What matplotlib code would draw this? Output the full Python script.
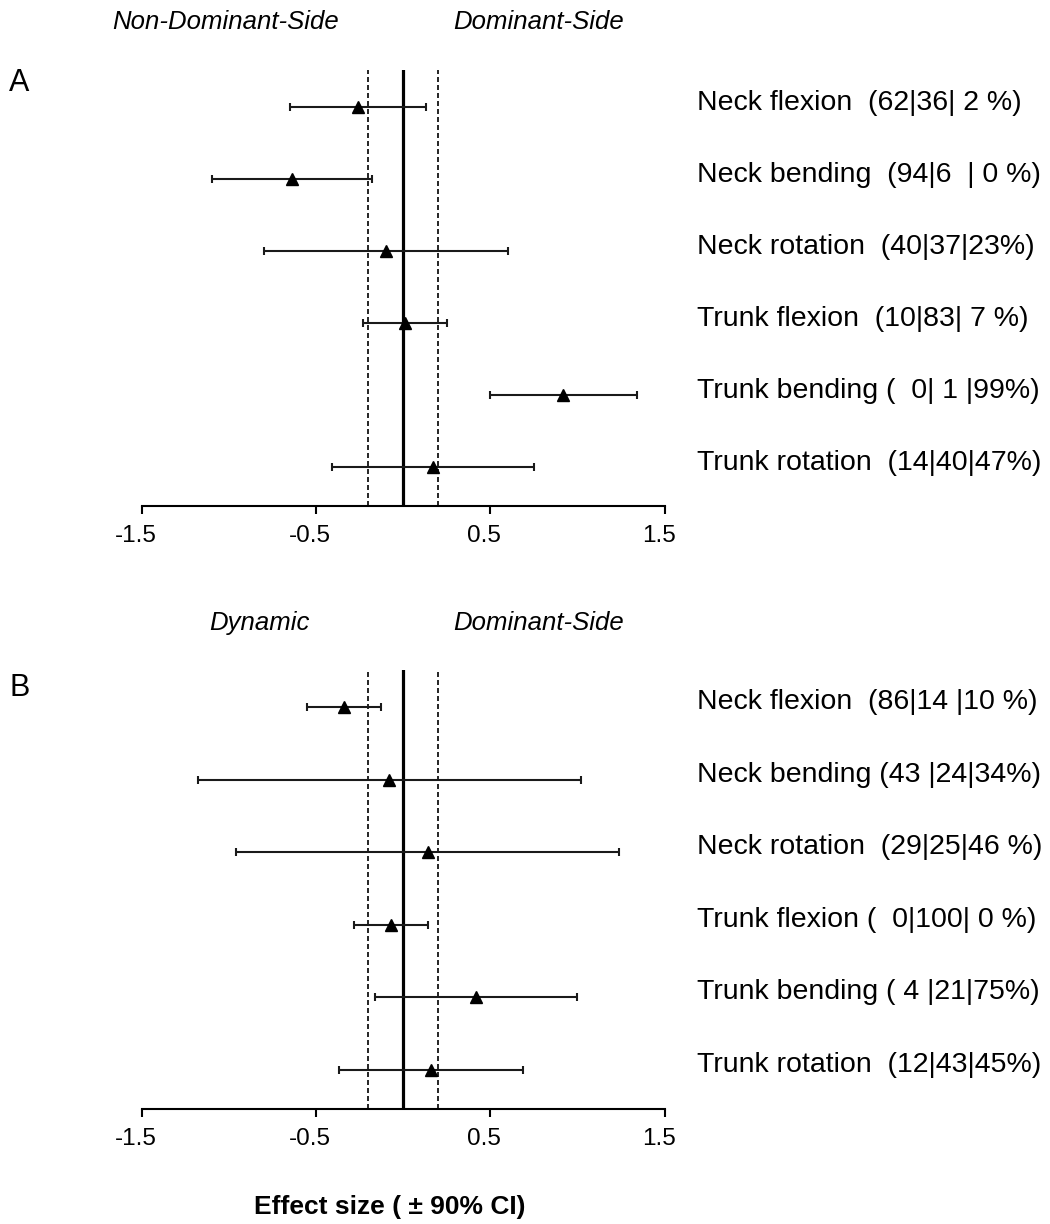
import matplotlib
matplotlib.use("Agg")
import matplotlib.pyplot as plt
import matplotlib.transforms as mtransforms

plt.rcParams["font.family"] = ["Liberation Sans", "DejaVu Sans"]
plt.rcParams["axes.unicode_minus"] = False

# Variables, top to bottom
variables = ["Neck flexion", "Neck bending", "Neck rotation",
             "Trunk flexion", "Trunk bending", "Trunk rotation"]

# Panel A: Non-Dominant-Side vs Dominant-Side
a_effect = [-0.26, -0.64, -0.10, 0.01, 0.92, 0.17]
a_lower = [-0.65, -1.10, -0.80, -0.23, 0.50, -0.41]
a_upper = [0.13, -0.18, 0.60, 0.25, 1.34, 0.75]
a_labels = ["Neck flexion  (62|36| 2 %)",
            "Neck bending  (94|6  | 0 %)",
            "Neck rotation  (40|37|23%)",
            "Trunk flexion  (10|83| 7 %)",
            "Trunk bending (  0| 1 |99%)",
            "Trunk rotation  (14|40|47%)"]

# Panel B: Dynamic vs Dominant-Side
b_effect = [-0.34, -0.08, 0.14, -0.07, 0.42, 0.16]
b_lower = [-0.55, -1.18, -0.96, -0.28, -0.16, -0.37]
b_upper = [-0.13, 1.02, 1.24, 0.14, 1.00, 0.69]
b_labels = ["Neck flexion  (86|14 |10 %)",
            "Neck bending (43 |24|34%)",
            "Neck rotation  (29|25|46 %)",
            "Trunk flexion (  0|100| 0 %)",
            "Trunk bending ( 4 |21|75%)",
            "Trunk rotation  (12|43|45%)"]

x_ticks = [-1.5, -0.5, 0.5, 1.5]
x_ticklabels = ["-1.5", "-0.5", "0.5", "1.5"]
threshold = 0.2

W, H = 1050, 1224
fig = plt.figure(figsize=(W / 100, H / 100), dpi=100)


def panel(top_px, bottom_px, effect, lower, upper, labels, letter, head_left,
          head_left_x, letter_y, head_y, label_dy):
    ax = fig.add_axes([142 / W, 1 - bottom_px / H, 522.5 / W,
                       (bottom_px - top_px) / H])
    n = len(effect)
    ys = [n - 1 - i for i in range(n)]
    xerr = [[e - lo for e, lo in zip(effect, lower)],
            [hi - e for e, hi in zip(effect, upper)]]
    ax.axvline(0, color="black", lw=2.3, zorder=1)
    for t in (-threshold, threshold):
        ax.axvline(t, color="black", lw=1.2, ls=(0, (3, 1.8)), zorder=1)
    ax.errorbar(effect, ys, xerr=xerr, fmt="none", ecolor="#1a1a1a",
                elinewidth=1.5, capsize=3.2, capthick=1.5, zorder=2)
    ax.plot(effect, ys, ls="none", marker="^", ms=9, color="black", zorder=3)
    ax.set_xlim(-1.5, 1.5)
    ax.set_ylim(-0.54, 5.51)
    for s in ("left", "right", "top"):
        ax.spines[s].set_visible(False)
    ax.spines["bottom"].set_linewidth(1.5)
    ax.set_yticks([])
    ax.set_xticks(x_ticks)
    ax.set_xticklabels(x_ticklabels, fontsize=17.5)
    ax.tick_params(axis="x", direction="out", length=5.5, width=1.5, pad=8)
    shift = mtransforms.ScaledTranslation(-6 / 100, 0, fig.dpi_scale_trans)
    for lab in ax.get_xticklabels():
        lab.set_transform(lab.get_transform() + shift)

    trans = mtransforms.blended_transform_factory(fig.transFigure, ax.transData)
    up = mtransforms.ScaledTranslation(0, label_dy / 100, fig.dpi_scale_trans)
    for y, lab in zip(ys, labels):
        ax.text(697 / W, y, lab, transform=trans + up, fontsize=20.5,
                ha="left", va="center", clip_on=False)

    fig.text(9 / W, 1 - letter_y / H, letter, fontsize=22,
             ha="left", va="center")
    fig.text(head_left_x / W, 1 - head_y / H, head_left, fontsize=18.5,
             style="italic", ha="left", va="center")
    fig.text(453 / W, 1 - head_y / H, "Dominant-Side", fontsize=18.5,
             style="italic", ha="left", va="center")
    return ax


panel(70, 506, a_effect, a_lower, a_upper, a_labels, "A",
      "Non-Dominant-Side", 112, 83, 22, 4)
panel(670, 1109, b_effect, b_lower, b_upper, b_labels, "B",
      "Dynamic", 209, 688, 623, 5)

fig.text(390 / W, 1 - 1207 / H, "Effect size ( \u00b1 90% CI)", fontsize=19,
         fontweight="bold", ha="center", va="center")

fig.savefig("out.png", dpi=100, facecolor="white")
